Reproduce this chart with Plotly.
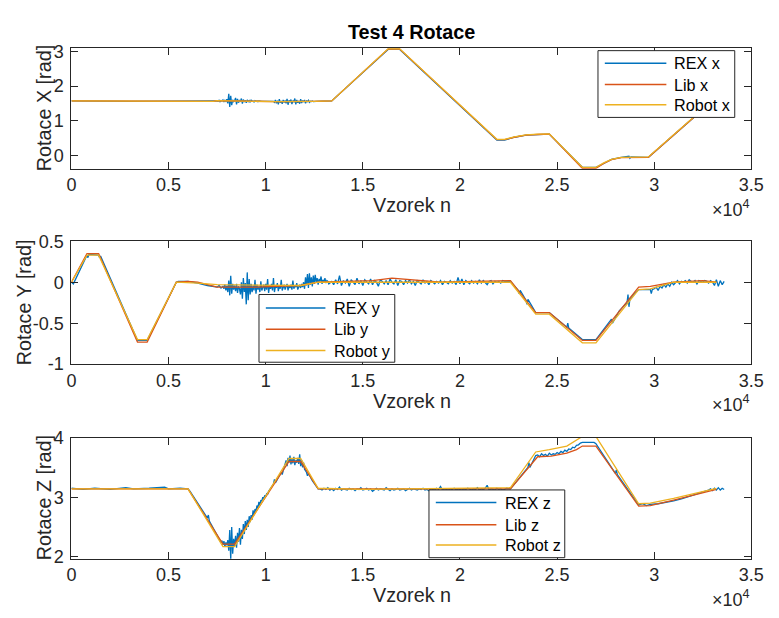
import numpy as np
import plotly.graph_objects as go

W, H = 779, 618
FONT = "Liberation Sans, Arial, sans-serif"
C_REX, C_LIB, C_ROB = "#0072BD", "#D95319", "#EDB120"
AX = "#262626"

# ---------------- data: Rotace X ----------------
lib_x_n = [0, 3000, 7300, 7500, 9000, 10500, 12500, 13400, 16300, 16900, 21900, 22300, 22800, 23400, 24000, 24600,
           26300, 27000, 27400, 27800, 28300, 29700, 33000, 33400]
lib_x = [1.57, 1.56, 1.56, 1.58, 1.57, 1.55, 1.56, 1.57, 3.07, 3.07, 0.45, 0.45, 0.52, 0.58, 0.60, 0.61,
         -0.38, -0.38, -0.24, -0.13, -0.07, -0.06, 1.57, 1.57]
robot_x_n = lib_x_n
robot_x = [1.57, 1.56, 1.56, 1.58, 1.57, 1.55, 1.56, 1.57, 3.08, 3.08, 0.46, 0.46, 0.53, 0.59, 0.61, 0.62,
           -0.35, -0.35, -0.22, -0.12, -0.06, -0.05, 1.58, 1.58]
rex_x_knots_n = [0, 3000, 7400, 9800, 10300, 12600, 13400, 16300, 16900, 21900, 22300, 22800, 23400, 24000, 24600,
                 26300, 27000, 27400, 27800, 28300, 28700, 28750, 28800, 29700, 33000, 33600]
rex_x_knots = [1.57, 1.56, 1.57, 1.56, 1.55, 1.56, 1.57, 3.06, 3.06, 0.44, 0.44, 0.52, 0.58, 0.60, 0.61,
               -0.35, -0.35, -0.24, -0.12, -0.06, -0.03, -0.09, -0.05, -0.06, 1.57, 1.57]
rex_x_noise_a_start = 7450
rex_x_noise_a = [1.57, 1.58, 1.56, 1.59, 1.55, 1.58, 1.57, 1.60, 1.54, 1.59, 1.56, 1.62, 1.50, 1.78, 1.40, 1.72,
                 1.45, 1.60, 1.55, 1.58, 1.66, 1.47, 1.63, 1.52, 1.58, 1.56, 1.64, 1.49, 1.61, 1.54, 1.59, 1.52,
                 1.60, 1.55, 1.58, 1.53, 1.59, 1.56, 1.57, 1.54, 1.58, 1.56, 1.57, 1.55, 1.57]
rex_x_noise_b_start = 10400
rex_x_noise_b = [1.56, 1.53, 1.60, 1.50, 1.58, 1.47, 1.62, 1.52, 1.57, 1.49, 1.60, 1.54, 1.57, 1.50, 1.63, 1.46,
                 1.59, 1.53, 1.61, 1.48, 1.58, 1.55, 1.64, 1.47, 1.60, 1.52, 1.57, 1.49, 1.62, 1.51, 1.58, 1.54,
                 1.60, 1.50, 1.57, 1.55, 1.59, 1.53, 1.56, 1.55, 1.57, 1.55]

# ---------------- data: Rotace Y ----------------
lib_y_n = [0, 800, 1400, 3400, 3900, 5400, 6000, 6500, 7500, 9500, 10500, 11800, 12700, 15500, 16500, 17500, 19000,
           22600, 23900, 24600, 26300, 27000, 29200, 29800, 31000, 32500, 33200]
lib_y = [0.0, 0.35, 0.35, -0.73, -0.73, 0.0, 0.01, 0.0, -0.06, -0.06, -0.05, -0.04, 0.0, 0.02, 0.05, 0.03, 0.0,
         0.02, -0.37, -0.37, -0.71, -0.71, -0.06, -0.05, 0.0, 0.02, 0.0]
robot_y_n = [0, 800, 1400, 3400, 3900, 5400, 6500, 7500, 11800, 12700, 22600, 23900, 24600, 26300, 27000, 29200,
             29800, 31000, 33200]
robot_y = [0.0, 0.33, 0.33, -0.70, -0.70, 0.0, -0.01, -0.03, -0.04, 0.0, 0.0, -0.39, -0.39, -0.74, -0.74, -0.09,
           -0.08, 0.0, 0.0]
rex_y_knots_n = [0, 100, 800, 850, 900, 1400, 1450, 1500, 3400, 3900, 5400, 5500, 6000, 6500, 7000, 7500, 7600, 7700,
                 22600, 23000, 23050, 23100, 23400, 23450, 23500, 23900, 24600, 25500, 25550, 25600, 26300, 27000,
                 27800, 27850, 28200, 28600, 28650, 28700, 28750, 29200, 29800, 29850, 29900]
rex_y_knots = [0.0, -0.02, 0.33, 0.30, 0.34, 0.33, 0.30, 0.32, -0.71, -0.71, 0.0, 0.01, 0.01, -0.01, -0.04, -0.06,
               -0.04, -0.07, 0.01, -0.10, -0.14, -0.10, -0.22, -0.27, -0.21, -0.37, -0.37, -0.55, -0.50, -0.56,
               -0.70, -0.70, -0.45, -0.50, -0.35, -0.25, -0.15, -0.30, -0.20, -0.09, -0.09, -0.14, -0.09]
rex_y_noise_a_start = 7800
rex_y_noise_a = [-0.05, -0.08, -0.03, -0.10, -0.04, -0.12, 0.02, -0.16, 0.08, -0.14,
                 -0.02, -0.09, -0.04, -0.11, -0.02, -0.13, -0.05, -0.08, -0.15, 0.00,
                 -0.20, 0.05, -0.12, -0.01, -0.27, 0.12, -0.22, 0.04, -0.15, -0.02,
                 -0.12, -0.04, -0.10, 0.03, -0.14, -0.03, -0.09, -0.05, -0.12, 0.01,
                 -0.10, -0.06, -0.03, -0.11, -0.02, -0.09, 0.04, -0.13, -0.04, -0.08,
                 -0.02, -0.10, 0.05, -0.12, -0.05, -0.07, -0.01, -0.11, -0.04, -0.08,
                 0.03, -0.10, -0.05, -0.03, -0.09, -0.06, -0.02, -0.10, -0.04, -0.07,
                 -0.03, -0.09, 0.02, -0.08, -0.04, -0.06, -0.01, -0.09, -0.05, -0.03,
                 -0.07, -0.02, -0.06, 0.00, -0.08, 0.06, -0.04, 0.10, -0.07, 0.11,
                 -0.03, 0.06, -0.05, 0.08, -0.02, 0.09, 0.00, 0.05, -0.03, 0.04,
                 0.01, 0.07, -0.02, 0.03, 0.00, 0.05, -0.01, 0.02, 0.01, -0.02]
rex_y_noise_b_start = 13400
rex_y_noise_b = [0.01, -0.03, 0.03, -0.02, 0.08, -0.04, 0.02, -0.01, 0.04, -0.05,
                 0.03, 0.00, -0.03, 0.05, -0.02, 0.02, -0.04, 0.03, 0.01, -0.02,
                 0.04, -0.03, 0.02, 0.00, -0.05, 0.03, 0.01, -0.02, 0.02, -0.03,
                 0.04, 0.00, -0.02, 0.03, -0.04, 0.02, 0.01, -0.03, 0.02, -0.01,
                 0.03, -0.02, 0.01, -0.04, 0.02, 0.00, -0.02, 0.03, -0.01, 0.01,
                 -0.03, 0.02, 0.00, -0.02, 0.01, -0.01, 0.02, -0.03, 0.01, 0.00,
                 -0.02, 0.02, -0.01, 0.01, -0.03, 0.06, -0.02, 0.04, -0.03, 0.02,
                 0.00, -0.02, 0.02, -0.01, 0.01, -0.02, 0.03, -0.01, 0.02, 0.00,
                 -0.03, 0.01, 0.02, -0.02, 0.01, 0.00, 0.01, -0.01, 0.02, 0.01]
rex_y_noise_c_start = 30000
rex_y_noise_c = [-0.08, -0.06, -0.10, -0.05, -0.07, -0.03, -0.06, -0.02, -0.05, 0.00,
                 -0.03, -0.01, 0.02, -0.02, 0.01, 0.00, 0.02, -0.01, 0.03, 0.01,
                 0.00, 0.02, -0.02, 0.02, 0.01, 0.00, 0.02, 0.01, -0.01, 0.02,
                 0.00, -0.04, 0.03, -0.05, 0.02, -0.03, 0.01]

# ---------------- data: Rotace Z ----------------
lib_z_n = [0, 6000, 7800, 8400, 11200, 11800, 12700, 22600, 24000, 24700, 25500, 26000, 26300, 27000, 29200, 29800,
           31000, 32500, 33200]
lib_z = [3.14, 3.14, 2.21, 2.21, 3.60, 3.60, 3.14, 3.14, 3.68, 3.69, 3.74, 3.80, 3.86, 3.86, 2.85, 2.86,
         2.95, 3.08, 3.13]
robot_z_n = [0, 6000, 7800, 8400, 11200, 11800, 12700, 15000, 22600, 23900, 24600, 25500, 26300, 27000, 29200, 29800,
             31000, 32500, 33200]
robot_z = [3.14, 3.14, 2.17, 2.17, 3.65, 3.65, 3.15, 3.13, 3.16, 3.76, 3.80, 3.86, 4.02, 4.02, 2.89, 2.90,
           2.98, 3.10, 3.15]
rex_z_knots_n = [0, 600, 1200, 2000, 2800, 3200, 4000, 4800, 5000, 5600, 6000, 6100, 7000, 7050, 7100, 7600,
                 10400, 10450, 10500, 10800, 10850, 10950, 12100, 12150, 12200, 12400, 12700,
                 22600, 23500, 23550, 23600, 23900, 26300, 26900, 27000, 28000, 28050, 28100, 29200, 29400, 29600,
                 29800, 30200, 30600, 31000, 31400, 31800, 32200, 32600, 32800]
rex_z_knots = [3.15, 3.13, 3.15, 3.13, 3.16, 3.14, 3.15, 3.17, 3.14, 3.15, 3.14, 3.10, 2.65, 2.70, 2.60, 2.31,
               3.22, 3.30, 3.24, 3.42, 3.38, 3.50, 3.42, 3.36, 3.40, 3.28, 3.14,
               3.14, 3.50, 3.58, 3.50, 3.70, 3.92, 3.92, 3.90, 3.40, 3.46, 3.38, 2.87, 2.89, 2.86,
               2.88, 2.89, 2.91, 2.94, 2.97, 3.01, 3.05, 3.09, 3.12]
rex_z_noise_a_start = 7650
rex_z_noise_a = [2.29, 2.24, 2.27, 2.20, 2.26, 2.17, 2.24, 2.19, 2.28, 2.10, 2.45, 1.95, 2.50, 2.05, 2.30, 2.18,
                 2.35, 2.15, 2.40, 2.25, 2.48, 2.20, 2.45, 2.30, 2.55, 2.38, 2.60, 2.45, 2.62, 2.50, 2.68, 2.58,
                 2.70, 2.62, 2.78, 2.70, 2.80, 2.76, 2.86, 2.82, 2.92, 2.86, 2.95, 2.93, 3.00, 2.97, 3.03, 3.01,
                 3.06, 3.05, 3.10]
rex_z_noise_b_start = 11000
rex_z_noise_b = [3.55, 3.62, 3.52, 3.66, 3.58, 3.70, 3.55, 3.64, 3.57, 3.68, 3.54, 3.62, 3.58, 3.66, 3.56, 3.72,
                 3.52, 3.62, 3.50, 3.58, 3.47]
rex_z_noise_c_start = 12800
rex_z_noise_c = [3.14, 3.12, 3.15, 3.13, 3.16, 3.12, 3.14, 3.11, 3.15, 3.13, 3.17, 3.12, 3.14, 3.13, 3.12, 3.15,
                 3.13, 3.14, 3.11, 3.14, 3.13, 3.16, 3.12, 3.13, 3.15, 3.12, 3.14, 3.10, 3.13, 3.15, 3.12, 3.14,
                 3.13, 3.12, 3.16, 3.13, 3.11, 3.14, 3.12, 3.13, 3.15, 3.12, 3.13, 3.14, 3.11, 3.13, 3.15, 3.12,
                 3.14, 3.13, 3.12, 3.14, 3.13, 3.15, 3.12, 3.13, 3.11, 3.14, 3.13, 3.12, 3.15, 3.13, 3.18, 3.12,
                 3.14, 3.13, 3.12, 3.14, 3.13, 3.15, 3.12, 3.14, 3.13, 3.12, 3.14, 3.13, 3.15, 3.13, 3.12, 3.14,
                 3.13, 3.16, 3.12, 3.14, 3.13, 3.15, 3.20, 3.12, 3.14, 3.13, 3.12, 3.15, 3.13, 3.14, 3.12, 3.13,
                 3.15]
rex_z_noise_d_start = 24000
rex_z_noise_d = [3.71, 3.68, 3.73, 3.70, 3.72, 3.69, 3.74, 3.71, 3.73, 3.72, 3.75, 3.73, 3.77, 3.75, 3.79, 3.77,
                 3.81, 3.80, 3.84, 3.83, 3.87, 3.88, 3.91]
rex_z_noise_e_start = 32900
rex_z_noise_e = [3.14, 3.11, 3.15, 3.12, 3.16, 3.12, 3.15, 3.13]

x_tickvals = [0, 5000, 10000, 15000, 20000, 25000, 30000, 35000]
x_ticktext = ["0", "0.5", "1", "1.5", "2", "2.5", "3", "3.5"]


def assemble(knots_n, knots_v, segments):
    xs = list(knots_n)
    ys = list(knots_v)
    for start, step, vals in segments:
        for i, v in enumerate(vals):
            xs.append(start + step * i)
            ys.append(v)
    order = np.argsort(np.array(xs), kind="stable")
    return [xs[i] for i in order], [ys[i] for i in order]


rx_n, rx_v = assemble(rex_x_knots_n, rex_x_knots,
                      [(rex_x_noise_a_start, 50, rex_x_noise_a), (rex_x_noise_b_start, 50, rex_x_noise_b)])
ry_n, ry_v = assemble(rex_y_knots_n, rex_y_knots,
                      [(rex_y_noise_a_start, 50, rex_y_noise_a), (rex_y_noise_b_start, 100, rex_y_noise_b),
                       (rex_y_noise_c_start, 100, rex_y_noise_c)])
rz_n, rz_v = assemble(rex_z_knots_n, rex_z_knots,
                      [(rex_z_noise_a_start, 50, rex_z_noise_a), (rex_z_noise_b_start, 50, rex_z_noise_b),
                       (rex_z_noise_c_start, 100, rex_z_noise_c), (rex_z_noise_d_start, 100, rex_z_noise_d),
                       (rex_z_noise_e_start, 100, rex_z_noise_e)])


def px(x):
    return x / W


def py(y):
    return 1 - y / H


# axes pixel boxes: (top, bottom)
L, R = 68, 764
boxes = [(39, 164), (239, 366), (442, 567)]
yranges = [[-0.39, 3.11], [-1, 0.5], [1.967, 4.0]]
ytickvals = [[0, 1, 2, 3], [-1, -0.5, 0, 0.5], [2, 3, 4]]
yticktext = [["0", "1", "2", "3"], ["-1", "-0.5", "0", "0.5"], ["2", "3", "4"]]
ylabels = ["Rotace X [rad]", "Rotace Y [rad]", "Rotace Z [rad]"]
ylabel_x = [40, 19, 40]

fig = go.Figure()
series = [
    [(rx_n, rx_v, C_REX), (lib_x_n, lib_x, C_LIB), (robot_x_n, robot_x, C_ROB)],
    [(ry_n, ry_v, C_REX), (lib_y_n, lib_y, C_LIB), (robot_y_n, robot_y, C_ROB)],
    [(rz_n, rz_v, C_REX), (lib_z_n, lib_z, C_LIB), (robot_z_n, robot_z, C_ROB)],
]
for k, ser in enumerate(series):
    sfx = "" if k == 0 else str(k + 1)
    for (xn, yv, col) in ser:
        fig.add_trace(go.Scatter(x=xn, y=yv, mode="lines", line=dict(color=col, width=1.3),
                                 xaxis="x" + sfx, yaxis="y" + sfx, showlegend=False, hoverinfo="skip"))

layout = dict(width=W, height=H, autosize=False, margin=dict(l=0, r=0, t=0, b=0),
              paper_bgcolor="white", plot_bgcolor="white", showlegend=False,
              font=dict(family=FONT, size=18, color=AX))
for k, (top, bot) in enumerate(boxes):
    sfx = "" if k == 0 else str(k + 1)
    common = dict(showline=True, linecolor=AX, linewidth=1, mirror="ticks", ticks="inside", ticklen=7,
                  tickwidth=1, tickcolor=AX, showgrid=False, zeroline=False,
                  tickfont=dict(family=FONT, size=18, color=AX))
    layout["xaxis" + sfx] = dict(common, domain=[px(L), px(R)], range=[0, 35000], tickvals=x_tickvals,
                                 ticktext=x_ticktext, anchor="y" + sfx)
    layout["yaxis" + sfx] = dict(common, domain=[py(bot), py(top)], range=yranges[k], tickvals=ytickvals[k],
                                 ticktext=yticktext[k], anchor="x" + sfx, ticklabelstandoff=3)
fig.update_layout(**layout)

ann = []
shapes = []
ann.append(dict(x=px(416), y=py(23), xref="paper", yref="paper", text="<b>Test 4 Rotace</b>",
                showarrow=False, xanchor="center", yanchor="middle", font=dict(size=19.8, color="#000", family=FONT)))
for k, (top, bot) in enumerate(boxes):
    ann.append(dict(x=px(ylabel_x[k]), y=py((top + bot) / 2), xref="paper", yref="paper", text=ylabels[k],
                    textangle=-90, showarrow=False, xanchor="center", yanchor="middle",
                    font=dict(size=19.8, color=AX, family=FONT)))
    ann.append(dict(x=px(417), y=py(bot + 38), xref="paper", yref="paper", text="Vzorek n",
                    showarrow=False, xanchor="center", yanchor="middle", font=dict(size=19.8, color=AX, family=FONT)))
    ann.append(dict(x=px(765), y=py(bot + 41), xref="paper", yref="paper", text="×10<sup>4</sup>",
                    showarrow=False, xanchor="right", yanchor="middle", font=dict(size=18, color=AX, family=FONT)))

# manual legends: box (x0, y0, x1, y1), line x0, x1, text x, entry ys, labels
legends = [
    ((607, 42, 747, 111), 614, 677, 683, [55, 77, 98], ["REX x", "Lib x", "Robot x"]),
    ((260, 294, 399, 364), 267, 328, 335, [308, 330, 352], ["REX y", "Lib y", "Robot y"]),
    ((434, 496, 573, 566), 441, 503, 510, [509, 532, 553], ["REX z", "Lib z", "Robot z"]),
]
cols = [C_REX, C_LIB, C_ROB]
for (bx, lx0, lx1, tx, ys, labels) in legends:
    shapes.append(dict(type="rect", xref="paper", yref="paper", x0=px(bx[0]), x1=px(bx[2]), y0=py(bx[3]),
                       y1=py(bx[1]), line=dict(color=AX, width=1), fillcolor="white", layer="above"))
    for yy, lab, c in zip(ys, labels, cols):
        shapes.append(dict(type="line", xref="paper", yref="paper", x0=px(lx0), x1=px(lx1), y0=py(yy), y1=py(yy),
                           line=dict(color=c, width=1.5), layer="above"))
        ann.append(dict(x=px(tx), y=py(yy), xref="paper", yref="paper", text=lab, showarrow=False,
                        xanchor="left", yanchor="middle", font=dict(size=16.2, color="#000", family=FONT)))

fig.update_layout(annotations=ann, shapes=shapes)
fig.write_html("out.html")
